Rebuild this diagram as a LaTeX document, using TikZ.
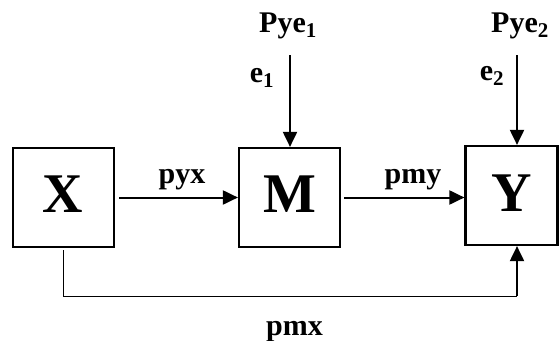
\documentclass[tikz,border=0pt]{standalone}
\usepackage{fontspec}
\setmainfont{Liberation Serif}
\usetikzlibrary{arrows.meta}
\begin{document}
\begin{tikzpicture}[x=1pt,y=-1pt,
  boxst/.style={draw,line width=2.2pt,minimum width=101pt,minimum height=99pt,inner sep=0pt},
  big/.style={font=\fontsize{56}{56}\selectfont\bfseries,anchor=base,inner sep=0pt},
  lab/.style={font=\fontsize{30}{30}\selectfont\bfseries,anchor=base,inner sep=0pt},
  arr/.style={line width=2pt,-{Triangle[length=15pt,width=14pt]}},
  thin/.style={line width=1pt}]
\useasboundingbox (0,0) rectangle (559,340);
\node[boxst] (X) at (63.5,197.5) {};
\node[boxst] (M) at (289.5,197.5) {};
\node[boxst,minimum width=92pt] (Y) at (511.5,195.5) {};
\node[big] (Xt) at (63,212) {X};
\node[big] (Mt) at (289.5,212) {M};
\node[big] (Yt) at (511.5,211) {Y};
\coordinate (t1) at (290,55);
\coordinate (t2) at (517,55);
\coordinate (xb) at (63,296);
\coordinate (yb) at (517,296);
\draw[arr] (X.east) ++(4,0) coordinate (xs) -- (M.west);
\draw[arr] (M.east) ++(3,0) coordinate (ms) -- (Y.west |- M.east);
\draw[arr] (t1) -- (t1 |- M.north);
\draw[arr] (t2) -- (t2 |- Y.north);
\draw[thin] (X.south -| xb) ++(0,2) -- (xb) -- (yb);
\draw[arr] (yb) -- (yb |- Y.south);
\node[lab] (pyx) at (182,183) {pyx};
\node[lab] (pmy) at (413,183) {pmy};
\node[lab] (pmx) at (294.5,335) {pmx};
\node[lab] (P1) at (288,32) {Pye\textsubscript{1}};
\node[lab] (P2) at (520,32) {Pye\textsubscript{2}};
\node[lab] (e1) at (262,82) {e\textsubscript{1}};
\node[lab] (e2) at (492,80) {e\textsubscript{2}};
\end{tikzpicture}
\end{document}
